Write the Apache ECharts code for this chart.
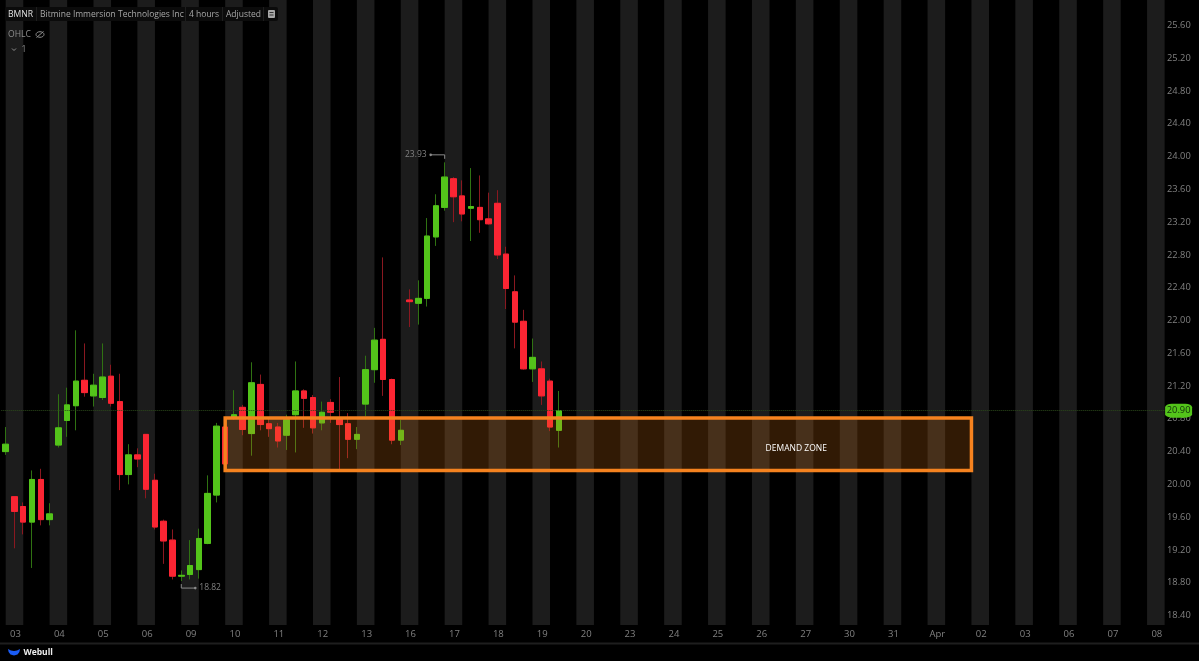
<!DOCTYPE html>
<html lang="en">

<head>
    <meta charset="UTF-8">
    <title>BMNR 4 hours</title>
    <script src="https://cdn.jsdelivr.net/npm/echarts@6/dist/echarts.min.js"></script>
    <style>
        * {
            margin: 0;
            padding: 0;
        }

        html,
        body {
            background: #000;
            overflow: hidden;
        }

        #chart {
            width: 1199px;
            height: 661px;
        }
    </style>
</head>

<body>
    <div id="chart"></div>
    <script>
        // one label per trading day, five 4h candles per day
        const dayLabels = ['03', '04', '05', '06', '09', '10', '11', '12', '13', '16', '17', '18', '19', '20',
            '23', '24', '25', '26', '27', '30', '31', 'Apr', '02', '03', '06', '07', '08'];
        const tickLabels = [25.6, 25.2, 24.8, 24.4, 24.0, 23.6, 23.2, 22.8, 22.4, 22.0, 21.6, 21.2, 20.8, 20.4,
            20.0, 19.6, 19.2, 18.8, 18.4];
        // open, close, low, high
        const candles = [
            [20.40, 20.49, 20.36, 20.70], [19.85, 19.67, 19.22, 19.85], [19.73, 19.54, 19.39, 19.78], [19.54, 20.06, 18.98, 20.17],
            [20.06, 19.57, 19.50, 20.19], [19.57, 19.64, 19.50, 19.77], [20.48, 20.69, 20.45, 21.10], [20.78, 20.97, 20.58, 21.18],
            [20.96, 21.26, 20.66, 21.88], [21.27, 21.12, 21.07, 21.72], [21.08, 21.21, 20.95, 21.35], [21.06, 21.31, 21.03, 21.72],
            [21.32, 20.99, 20.95, 21.46], [21.01, 20.12, 19.93, 21.35], [20.12, 20.36, 20.00, 20.49], [20.36, 20.31, 20.21, 20.44],
            [20.61, 19.94, 19.83, 20.61], [20.05, 19.48, 19.45, 20.13], [19.55, 19.31, 19.03, 19.57], [19.32, 18.88, 18.84, 19.45],
            [18.88, 18.89, 18.82, 18.95], [18.90, 19.01, 18.84, 19.32], [18.96, 19.34, 18.85, 19.46], [19.28, 19.89, 19.27, 20.11],
            [19.87, 20.71, 19.78, 20.75], [20.70, 20.25, 20.25, 20.70], [20.81, 20.85, 20.79, 21.15], [20.94, 20.67, 20.60, 20.97],
            [20.62, 21.24, 20.35, 21.49], [21.22, 20.73, 20.66, 21.34], [20.74, 20.68, 20.58, 20.81], [20.70, 20.53, 20.45, 20.75],
            [20.60, 20.79, 20.42, 20.85], [20.85, 21.14, 20.39, 21.50], [21.14, 21.05, 20.69, 21.16], [21.06, 20.69, 20.62, 21.09],
            [20.75, 20.88, 20.66, 21.01], [21.00, 20.88, 20.75, 21.04], [20.81, 20.73, 20.18, 21.31], [20.74, 20.55, 20.32, 20.87],
            [20.55, 20.61, 20.43, 20.70], [20.98, 21.40, 20.83, 21.57], [21.40, 21.76, 21.24, 21.91], [21.77, 21.28, 21.08, 22.77],
            [21.28, 20.54, 20.49, 21.29], [20.54, 20.66, 20.48, 20.79], [22.25, 22.23, 21.92, 22.38], [22.21, 22.27, 21.95, 22.49],
            [22.27, 23.03, 22.17, 23.25], [23.02, 23.40, 22.91, 23.54], [23.38, 23.75, 23.34, 23.93], [23.73, 23.51, 23.20, 23.75],
            [23.52, 23.30, 23.21, 23.71], [23.37, 23.39, 22.97, 23.86], [23.38, 23.23, 23.07, 23.77], [23.24, 23.18, 23.17, 23.56],
            [23.43, 22.80, 22.75, 23.59], [22.81, 22.39, 22.14, 22.90], [22.35, 21.98, 21.66, 22.55], [21.99, 21.41, 21.40, 22.13],
            [21.41, 21.55, 21.25, 21.78], [21.41, 21.08, 20.97, 21.50], [21.26, 20.70, 20.65, 21.29], [20.66, 20.90, 20.45, 21.14]
        ];
        const lastPrice = 20.90;
        const highPrice = 23.93;
        const lowPrice = 18.82;
        const zoneTop = 20.81;
        const zoneBottom = 20.17;
        const zoneStart = 25; // candle index
        const zoneEnd = 110;
        const candleCount = 133;

        const GREEN = '#53c41a';
        const RED = '#fb2533';
        const TEXT = '#808080';
        const FONT = '"Open Sans", sans-serif';

        const categories = [];
        dayLabels.forEach(function (d) {
            for (let k = 0; k < 5; k++) categories.push(d);
        });
        categories.length = candleCount;

        // day stripes run from the first candle of a day to its third candle
        const stripes = dayLabels.map(function (d, i) {
            return [{ xAxis: i * 5 }, { xAxis: i * 5 + 2 }];
        });

        // the bright bodies sit on top of the dim wicks
        const bodies = candles.map(function (c) {
            return [c[0], c[1], Math.min(c[0], c[1]), Math.max(c[0], c[1])];
        });

        const chart = echarts.init(document.getElementById('chart'));
        chart.setOption({
            backgroundColor: '#000',
            animation: false,
            tooltip: { show: false },
            grid: { left: 1.3, top: 0, width: 1167.7, height: 625 },
            xAxis: {
                type: 'category',
                data: categories,
                boundaryGap: true,
                axisLine: { show: false },
                axisTick: { show: false },
                splitLine: { show: false },
                axisLabel: {
                    interval: function (i) { return i % 5 === 1; },
                    color: TEXT,
                    fontFamily: FONT,
                    fontSize: 9.5,
                    padding: [0, 0, 0, 2],
                    margin: 4
                }
            },
            yAxis: {
                type: 'value',
                position: 'right',
                min: 18.284,
                max: 25.911,
                axisLine: { show: false },
                axisTick: { show: false },
                splitLine: { show: false },
                axisLabel: {
                    customValues: tickLabels,
                    formatter: function (v) { return v.toFixed(2); },
                    color: TEXT,
                    fontFamily: FONT,
                    fontSize: 9.3,
                    padding: [3, 0, 0, 0],
                    margin: -2
                }
            },
            series: [{
                name: 'wicks',
                type: 'candlestick',
                barWidth: 6,
                data: candles,
                itemStyle: {
                    color: '#000',
                    color0: '#000',
                    borderColor: '#2f7212',
                    borderColor0: '#8a1820',
                    borderWidth: 1
                },
                markArea: {
                    silent: true,
                    z: 1,
                    itemStyle: { color: '#1c1c1c' },
                    data: stripes
                }
            }, {
                name: 'bodies',
                type: 'candlestick',
                barWidth: 6,
                data: bodies,
                itemStyle: {
                    color: GREEN,
                    color0: RED,
                    borderColor: GREEN,
                    borderColor0: RED,
                    borderWidth: 1
                },
                markArea: {
                    silent: true,
                    z: 10,
                    itemStyle: {
                        color: 'rgba(247, 130, 27, 0.2)',
                        borderColor: '#f5821f',
                        borderWidth: 3.5
                    },
                    label: {
                        show: true,
                        position: ['76.4%', '57%'],
                        align: 'center',
                        verticalAlign: 'middle',
                        color: '#fff',
                        fontFamily: FONT,
                        fontSize: 8.5,
                        formatter: 'DEMAND ZONE'
                    },
                    data: [[
                        { xAxis: zoneStart, yAxis: zoneTop },
                        { xAxis: zoneEnd, yAxis: zoneBottom }
                    ]]
                },
                markLine: {
                    silent: true,
                    z: 5,
                    symbol: 'none',
                    label: { show: false },
                    lineStyle: { color: '#2c4a1a', width: 1, type: 'dotted' },
                    data: [{ yAxis: lastPrice }]
                },
                markPoint: {
                    silent: true,
                    z: 12,
                    symbol: 'roundRect',
                    symbolSize: [27, 14],
                    symbolOffset: [14, 0],
                    itemStyle: { color: GREEN },
                    label: {
                        show: true,
                        position: 'inside',
                        color: '#12300a',
                        fontFamily: FONT,
                        fontSize: 9.3,
                        formatter: lastPrice.toFixed(2)
                    },
                    data: [{ coord: [candleCount - 1, lastPrice] }]
                }
            }]
        });

        // annotations hang off the high and low candles, header and footer are chart chrome
        const hi = chart.convertToPixel({ xAxisIndex: 0, yAxisIndex: 0 }, [50, highPrice]);
        const lo = chart.convertToPixel({ xAxisIndex: 0, yAxisIndex: 0 }, [20, lowPrice]);

        function label(x, y, text, color, size, weight, align) {
            return {
                type: 'text',
                z: 30,
                x: x,
                y: y,
                style: {
                    text: text,
                    fill: color,
                    font: (weight || 'normal') + ' ' + size + 'px ' + FONT,
                    align: align || 'left',
                    verticalAlign: 'middle'
                }
            };
        }

        function stroke(points, color, width) {
            return {
                type: 'polyline',
                z: 30,
                shape: { points: points },
                style: { stroke: color, lineWidth: width || 1, fill: null }
            };
        }

        function dot(x, y, color) {
            return { type: 'circle', z: 30, shape: { cx: x, cy: y, r: 1.3 }, style: { fill: color } };
        }

        chart.setOption({
            graphic: [
                // high leader
                stroke([[hi[0], hi[1] - 3.5], [hi[0], hi[1] - 7.5], [hi[0] - 14, hi[1] - 7.5]], '#8a8a8a'),
                dot(hi[0] - 14, hi[1] - 7.5, '#8a8a8a'),
                label(hi[0] - 18, hi[1] - 7.5, highPrice.toFixed(2), TEXT, 8.5, 'normal', 'right'),
                // low leader
                stroke([[lo[0], lo[1] + 3], [lo[0], lo[1] + 7], [lo[0] + 14, lo[1] + 7]], '#8a8a8a'),
                dot(lo[0] + 14, lo[1] + 7, '#8a8a8a'),
                label(lo[0] + 18, lo[1] + 7, lowPrice.toFixed(2), TEXT, 8.5),

                // header strip
                {
                    type: 'rect', z: 25,
                    shape: { x: 5, y: 7, width: 273, height: 14, r: 2 },
                    style: { fill: '#0b0b0b' }
                },
                stroke([[36.5, 7], [36.5, 21]], '#1e1e1e'),
                stroke([[185.5, 7], [185.5, 21]], '#1e1e1e'),
                stroke([[222.5, 7], [222.5, 21]], '#1e1e1e'),
                stroke([[263.5, 7], [263.5, 21]], '#1e1e1e'),
                label(8, 14.5, 'BMNR', '#e2e2e2', 8.6),
                label(40, 14.5, 'Bitmine Immersion Technologies Inc', '#a8a8a8', 8.5),
                label(189, 14.5, '4 hours', '#a8a8a8', 8.5),
                label(226, 14.5, 'Adjusted', '#a8a8a8', 8.5),
                {
                    type: 'rect', z: 30,
                    shape: { x: 268, y: 10, width: 7, height: 8, r: 1 },
                    style: { fill: '#a8a8a8' }
                },
                stroke([[269.5, 12.5], [273.5, 12.5]], '#333'),
                stroke([[269.5, 15], [273.5, 15]], '#333'),

                // OHLC row
                label(8, 34.5, 'OHLC', '#8e8e8e', 8.6),
                {
                    type: 'ellipse', z: 30,
                    shape: { cx: 40, cy: 34.5, rx: 4, ry: 2.8 },
                    style: { stroke: '#8e8e8e', lineWidth: 1, fill: null }
                },
                stroke([[36.5, 37.5], [43.5, 31.5]], '#8e8e8e'),
                stroke([[12, 48.5], [14, 50.5], [16, 48.5]], '#8e8e8e'),
                label(21.5, 49.5, '1', '#8e8e8e', 8.6),

                // footer
                stroke([[0, 643.5], [1199, 643.5]], '#1e1e1e', 2),
                {
                    type: 'polygon', z: 30,
                    shape: {
                        points: [[8, 649], [11, 650.6], [14, 651], [17, 650.6], [20, 649], [19.4, 652], [17.5, 654.6],
                            [14, 655.6], [10.5, 654.6], [8.6, 652]]
                    },
                    style: { fill: '#1a5cf5' }
                },
                label(23.5, 653, 'Webull', '#ededed', 8.5, 'bold')
            ]
        });
    </script>
</body>

</html>
